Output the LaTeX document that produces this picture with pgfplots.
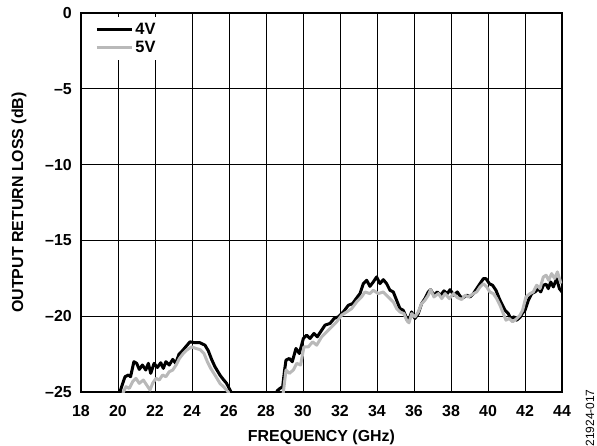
\documentclass[border=0pt]{standalone}
\usepackage{fontspec}
\setmainfont{Liberation Sans}
\usepackage{pgfplots}
\pgfplotsset{compat=1.18}
\definecolor{vfour}{RGB}{0,0,0}
\definecolor{vfive}{RGB}{185,185,185}

\begin{document}
\begin{tikzpicture}
\begin{axis}[
  name=ax,
  at={(0,0)}, anchor=south west,
  scale only axis, width=481bp, height=379bp,
  xmin=18, xmax=44, ymin=-25, ymax=0,
  xtick={18,20,...,44},
  ytick={-25,-20,...,0},
  yticklabels={\textendash25,\textendash20,\textendash15,\textendash10,\textendash5,0},
  /pgf/number format/assume math mode=true,
  grid=major,
  major grid style={black, line width=0.9bp},
  axis line style={line width=1.3bp},
  major tick length=0pt,
  tick label style={font=\fontsize{16}{18}\selectfont\bfseries},
  xticklabel style={anchor=north, inner sep=0pt, yshift=-13bp},
  yticklabel style={anchor=east, inner sep=0pt, xshift=-9bp},
  label style={font=\fontsize{16}{18}\selectfont\bfseries},
  xlabel={FREQUENCY (GHz)},
  ylabel={OUTPUT RETURN LOSS (dB)},
  xlabel style={at={(axis description cs:0.5,-0.1187)}, anchor=center},
  ylabel style={at={(axis description cs:-0.129,0.5)}, anchor=center},
  unbounded coords=jump,
  legend cell align=left,
  legend style={at={(0.015,0.99)}, anchor=north west, draw=none, fill=white,
    font=\fontsize{16.5}{18}\selectfont\bfseries, inner xsep=7bp, inner ysep=4bp,
    row sep=1.5bp},
  legend image code/.code={\draw[#1, line width=3bp] (0bp,0bp) -- (35bp,0bp);},
]
% 4V
\addplot[vfour, line width=3bp, line join=round] coordinates {
(20.0,-25.6) (20.1,-25.0) (20.38,-23.99) (20.56,-23.88) (20.68,-23.99) (20.86,-23.0)
(21.01,-23.11) (21.15,-23.51) (21.32,-23.22) (21.5,-23.55) (21.64,-23.11) (21.77,-23.77)
(21.95,-23.11) (22.13,-23.38) (22.31,-23.07) (22.45,-23.44) (22.59,-23.0) (22.77,-23.22)
(22.96,-22.85) (23.12,-23.11) (23.3,-22.5) (23.48,-22.28) (23.66,-22.02) (23.89,-21.69)
(24.16,-21.75) (24.43,-21.75) (24.7,-21.91) (24.88,-22.28) (25.06,-22.85) (25.24,-23.33)
(25.51,-23.88) (25.69,-24.17) (25.87,-24.43) (26.09,-24.96) (26.2,-25.4)
(27.0,nan)
(28.45,-25.4) (28.62,-24.9) (28.76,-24.76) (28.9,-24.65) (29.0,-23.6) (29.08,-22.9)
(29.26,-22.79) (29.42,-23.0) (29.62,-22.13) (29.8,-22.46) (30.02,-21.47) (30.2,-21.25)
(30.38,-21.47) (30.59,-21.14) (30.77,-21.36) (31.01,-20.92) (31.19,-20.59) (31.46,-20.48)
(31.68,-20.15) (31.91,-20.04) (32.18,-19.72) (32.45,-19.28) (32.68,-19.17) (32.94,-18.73)
(33.08,-18.51) (33.26,-17.85) (33.44,-17.63) (33.62,-18.03) (33.8,-17.74) (33.98,-17.41)
(34.16,-17.85) (34.34,-17.59) (34.52,-17.85) (34.7,-18.29) (34.88,-18.4) (35.06,-18.95)
(35.24,-19.5) (35.42,-19.61) (35.57,-20.04) (35.69,-20.37) (35.87,-19.72) (36.05,-20.15)
(36.23,-19.83) (36.41,-19.17) (36.59,-18.84) (36.77,-18.4) (36.9,-18.25) (37.08,-18.62)
(37.26,-18.4) (37.44,-18.62) (37.62,-18.33) (37.8,-18.51) (37.95,-18.25) (38.16,-18.62)
(38.34,-18.4) (38.52,-18.73) (38.67,-18.77) (38.85,-18.62) (39.03,-18.73) (39.21,-18.51)
(39.39,-18.18) (39.57,-17.85) (39.75,-17.52) (39.89,-17.52) (40.07,-17.85) (40.25,-17.96)
(40.43,-18.29) (40.61,-18.84) (40.74,-19.17) (40.92,-19.61) (41.1,-19.83) (41.23,-20.15)
(41.41,-20.04) (41.55,-20.26) (41.73,-20.08) (41.87,-19.78) (42.0,-19.61) (42.18,-18.95)
(42.36,-18.51) (42.54,-18.4) (42.72,-18.18) (42.85,-18.4) (42.99,-17.96) (43.14,-17.89)
(43.26,-18.18) (43.39,-17.74) (43.53,-18.07) (43.71,-17.52) (43.86,-18.18) (44.0,-18.4)
};
\addlegendentry{4V}
% 5V
\addplot[vfive, line width=3bp, line join=round] coordinates {
(20.2,-25.5) (20.29,-25.0) (20.43,-24.65) (20.61,-24.76) (20.79,-24.32) (20.97,-24.1)
(21.15,-24.43) (21.37,-24.21) (21.55,-24.54) (21.73,-24.87) (21.87,-24.43) (22.05,-24.1)
(22.23,-24.21) (22.41,-23.88) (22.59,-23.99) (22.77,-23.66) (22.96,-23.55) (23.14,-23.22)
(23.32,-22.79) (23.5,-22.5) (23.71,-22.24) (23.98,-22.02) (24.22,-22.13) (24.43,-22.2)
(24.65,-22.46) (24.83,-23.0) (25.01,-23.44) (25.24,-23.88) (25.51,-24.43) (25.73,-24.69)
(25.96,-25.0) (26.05,-25.4)
(27.0,nan)
(28.85,-25.4) (28.94,-25.0) (29.08,-23.55) (29.26,-23.77) (29.48,-23.55) (29.66,-23.11)
(29.87,-23.22) (30.05,-22.02) (30.29,-22.02) (30.52,-21.69) (30.74,-21.91) (31.01,-21.36)
(31.28,-21.03) (31.55,-20.7) (31.82,-20.37) (32.09,-19.93) (32.36,-19.72) (32.63,-19.5)
(32.9,-19.06) (33.17,-18.73) (33.35,-18.4) (33.62,-18.51) (33.8,-18.29) (34.07,-18.51)
(34.34,-18.4) (34.52,-18.62) (34.7,-18.84) (34.88,-19.06) (35.06,-19.5) (35.24,-19.72)
(35.46,-19.83) (35.6,-20.26) (35.73,-20.44) (35.87,-19.83) (36.05,-20.04) (36.23,-19.72)
(36.41,-19.17) (36.59,-18.95) (36.77,-18.62) (36.9,-18.25) (37.08,-18.73) (37.32,-18.51)
(37.5,-18.84) (37.68,-18.51) (37.91,-18.84) (38.13,-18.51) (38.34,-18.77) (38.58,-18.9)
(38.76,-18.62) (38.94,-18.73) (39.21,-18.51) (39.39,-18.4) (39.57,-18.07) (39.75,-17.85)
(39.93,-18.07) (40.1,-18.4) (40.29,-18.51) (40.47,-18.84) (40.65,-19.28) (40.83,-19.83)
(40.97,-20.26) (41.15,-20.15) (41.33,-20.37) (41.51,-20.2) (41.73,-19.93) (41.87,-19.61)
(42.05,-18.73) (42.27,-18.51) (42.45,-18.4) (42.63,-17.96) (42.81,-18.18) (42.99,-17.41)
(43.14,-17.3) (43.28,-17.63) (43.44,-17.19) (43.6,-17.52) (43.75,-17.08) (43.95,-17.85)
};
\addlegendentry{5V}
\end{axis}
\node[xshift=28bp, yshift=-26bp, rotate=90, inner sep=0pt,
  font=\fontsize{12}{14}\selectfont] at (ax.south east) {21924-017};
\pgfresetboundingbox
\path[use as bounding box] (-81bp,-54bp) rectangle (516bp,392bp);
\end{tikzpicture}
\end{document}
